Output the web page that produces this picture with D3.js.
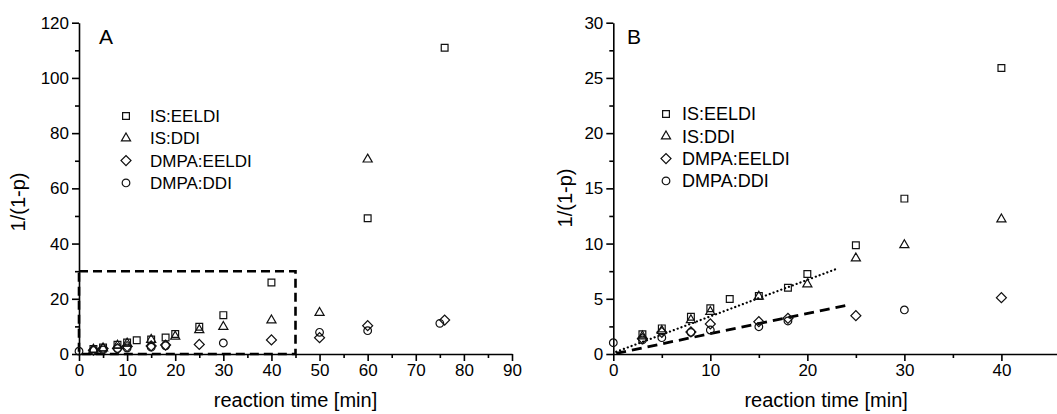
<!DOCTYPE html>
<html>
<head>
<meta charset="utf-8">
<script src="https://cdn.jsdelivr.net/npm/d3@7"></script>
<style>
  body { margin: 0; background: #fff; }
  svg { font-family: "Liberation Sans", Arial, sans-serif; }
</style>
</head>
<body>
<svg id="chart" width="1057" height="414"></svg>
<script>
// series data
const seriesNames = ["IS:EELDI", "IS:DDI", "DMPA:EELDI", "DMPA:DDI"];

const isEeldiTime = [3, 5, 8, 10, 12, 15, 18, 20, 25, 30, 40, 60, 76];
const isEeldiVal  = [1.78, 2.32, 3.38, 4.14, 4.98, 5.25, 6.0, 7.25, 9.85, 14.07, 25.9, 49.2, 110.9];

const isDdiTime = [3, 5, 8, 10, 15, 20, 25, 30, 40, 50, 60];
const isDdiVal  = [1.6, 2.1, 3.08, 3.83, 5.2, 6.31, 8.67, 9.87, 12.2, 14.96, 70.5];

const dmpaEeldiTime = [3, 5, 8, 10, 15, 18, 25, 40, 50, 60, 76];
const dmpaEeldiVal  = [1.4, 1.96, 2.0, 2.72, 2.93, 3.23, 3.47, 5.1, 5.9, 10.25, 12.3];

const dmpaDdiTime = [0, 3, 5, 8, 10, 15, 18, 30, 50, 60, 75];
const dmpaDdiVal  = [1.02, 1.27, 1.48, 1.96, 2.17, 2.47, 2.99, 3.99, 7.85, 8.45, 11.1];

// linear fits drawn in panel B (end points)
const fitDotted = [[0.3, 0.2], [22.9, 7.67]];
const fitDashed = [[0.3, 0.06], [24.2, 4.44]];

// zoom box drawn in panel A: [x0, x1], [y0, y1]
const zoomBoxX = [0, 45];
const zoomBoxY = [0, 30];

const panelATicksX = d3.range(0, 91, 10);
const panelATicksY = d3.range(0, 121, 20);
const panelBTicksX = [0, 10, 20, 30, 40];
const panelBTicksY = d3.range(0, 31, 5);

const series = [
  {name: seriesNames[0], t: isEeldiTime, v: isEeldiVal, shape: "square"},
  {name: seriesNames[1], t: isDdiTime, v: isDdiVal, shape: "triangle"},
  {name: seriesNames[2], t: dmpaEeldiTime, v: dmpaEeldiVal, shape: "diamond"},
  {name: seriesNames[3], t: dmpaDdiTime, v: dmpaDdiVal, shape: "circle"}
];

const svg = d3.select("#chart");

function marker(shape) {
  if (shape === "square") return d3.symbol(d3.symbolSquare, 46)();
  if (shape === "triangle") return d3.symbol(d3.symbolTriangle, 36)();
  if (shape === "circle") return d3.symbol(d3.symbolCircle, 46)();
  return d3.symbol(d3.symbolSquare, 50)();
}

function drawPanel(opt) {
  const g = svg.append("g");
  const x = d3.scaleLinear().domain(opt.xDomain).range([opt.left, opt.right]);
  const y = d3.scaleLinear().domain(opt.yDomain).range([354, 22.7]);

  // clip so nothing spills past the axes
  const clipId = "clip" + opt.label;
  svg.append("clipPath").attr("id", clipId)
    .append("rect")
      .attr("x", opt.left - 8).attr("y", 10)
      .attr("width", opt.right - opt.left + 16).attr("height", 354);

  // minor ticks
  g.append("g")
    .attr("transform", `translate(0,${y(0)})`)
    .call(d3.axisBottom(x).tickValues(opt.minorX).tickSize(4).tickFormat(""))
    .call(a => a.select(".domain").remove());
  g.append("g")
    .attr("transform", `translate(${x(0)},0)`)
    .call(d3.axisLeft(y).tickValues(opt.minorY).tickSize(4).tickFormat(""))
    .call(a => a.select(".domain").remove());

  // major ticks + axes
  g.append("g")
    .attr("transform", `translate(0,${y(0)})`)
    .call(d3.axisBottom(x).tickValues(opt.ticksX).tickSize(7).tickPadding(3).tickSizeOuter(0))
    .call(a => a.selectAll("text").style("font-size", "17px").attr("fill", "#000"));
  g.append("g")
    .attr("transform", `translate(${x(0)},0)`)
    .call(d3.axisLeft(y).tickValues(opt.ticksY).tickSize(7).tickPadding(3).tickSizeOuter(0))
    .call(a => a.selectAll("text").style("font-size", "17px").attr("fill", "#000"));

  g.selectAll(".domain, .tick line").attr("stroke", "#000").attr("stroke-width", 1.6);

  // axis titles
  g.append("text")
    .attr("x", (opt.left + opt.right) / 2 + opt.titleShift).attr("y", 407)
    .attr("text-anchor", "middle").style("font-size", "20px")
    .text("reaction time [min]");
  g.append("text")
    .attr("transform", `translate(${opt.yTitleX},${opt.yTitleY}) rotate(-90)`)
    .attr("text-anchor", "middle").attr("dy", "0.35em").style("font-size", "20px")
    .text("1/(1-p)");

  // panel letter
  g.append("text")
    .attr("x", opt.letterX).attr("y", 44)
    .style("font-size", "21px")
    .text(opt.label);

  const plot = g.append("g").attr("clip-path", `url(#${clipId})`);

  if (opt.box) {
    plot.append("rect")
      .attr("x", x(zoomBoxX[0])).attr("y", y(zoomBoxY[1]))
      .attr("width", x(zoomBoxX[1]) - x(zoomBoxX[0]))
      .attr("height", y(zoomBoxY[0]) - y(zoomBoxY[1]))
      .attr("fill", "none").attr("stroke", "#000")
      .attr("stroke-width", 2.6).attr("stroke-dasharray", "9,5");
  }

  if (opt.fits) {
    const line = d3.line().x(d => x(d[0])).y(d => y(d[1]));
    plot.append("path").attr("d", line(fitDotted))
      .attr("fill", "none").attr("stroke", "#000").attr("stroke-width", 2.2)
      .attr("stroke-linecap", "round").attr("stroke-dasharray", "0.1,4");
    plot.append("path").attr("d", line(fitDashed))
      .attr("fill", "none").attr("stroke", "#000").attr("stroke-width", 2.8)
      .attr("stroke-dasharray", "10,6");
  }

  // markers
  series.forEach(s => {
    plot.append("g").selectAll("path")
      .data(s.t.map((t, i) => ({t: t, v: s.v[i]})).filter(d => d.t <= opt.xDomain[1]))
      .join("path")
        .attr("d", marker(s.shape))
        .attr("transform", d => `translate(${x(d.t)},${y(d.v)})` + (s.shape === "diamond" ? " rotate(45)" : ""))
        .attr("fill", "none").attr("stroke", "#111").attr("stroke-width", 1.2);
  });

  // legend
  const lg = g.append("g");
  series.forEach((s, i) => {
    const yy = opt.legendY + i * 22.3;
    lg.append("path")
      .attr("d", marker(s.shape))
      .attr("transform", `translate(${opt.legendX},${yy})` + (s.shape === "diamond" ? " rotate(45)" : ""))
      .attr("fill", "none").attr("stroke", "#111").attr("stroke-width", 1.2);
    lg.append("text")
      .attr("x", opt.legendX + opt.legendGap).attr("y", yy).attr("dy", "0.36em")
      .style("font-size", opt.legendFont + "px")
      .text(s.name);
  });
}

drawPanel({
  label: "A", left: 79, right: 512, xDomain: [0, 90], yDomain: [0, 120],
  ticksX: panelATicksX, ticksY: panelATicksY,
  minorX: d3.range(5, 90, 10), minorY: d3.range(10, 120, 20),
  titleShift: 0, yTitleX: 18, yTitleY: 202, letterX: 99,
  legendX: 126, legendY: 116, legendGap: 24, legendFont: 17,
  box: true, fits: false
});

drawPanel({
  label: "B", left: 613.3, right: 1057, xDomain: [0, 45.73], yDomain: [0, 30],
  ticksX: panelBTicksX, ticksY: panelBTicksY,
  minorX: [5, 15, 25, 35], minorY: d3.range(2.5, 30, 5),
  titleShift: -9, yTitleX: 565, yTitleY: 198, letterX: 627,
  legendX: 666, legendY: 114, legendGap: 16, legendFont: 18,
  box: false, fits: true
});
</script>
</body>
</html>
